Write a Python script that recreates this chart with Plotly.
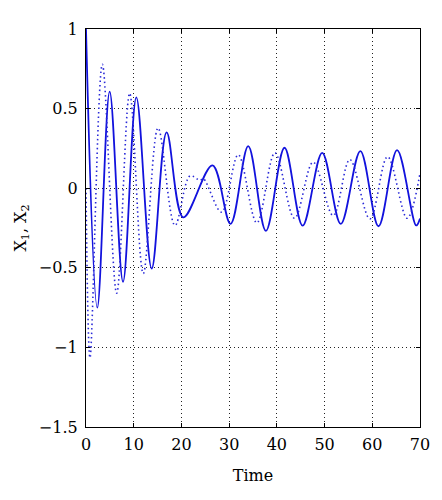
import plotly.graph_objects as go

# X1 (solid) key points
t1 = [0, 2.37, 4.96, 7.76, 10.55, 13.77, 16.9, 20.4, 26.5, 30.3, 34.0, 37.7, 41.6, 45.4, 49.5, 53.4, 57.5, 61.3, 65.2, 69.2, 70]
x1 = [1.0, -0.75, 0.607, -0.588, 0.571, -0.505, 0.351, -0.183, 0.143, -0.224, 0.264, -0.268, 0.254, -0.235, 0.222, -0.224, 0.233, -0.239, 0.239, -0.234, -0.19]

# X2 (dotted) key points
t2 = [0, 0.84, 3.42, 6.43, 9.15, 12.0, 15.1, 18.65, 21.8, 23.9, 24.6, 28.4, 31.9, 35.8, 39.6, 43.7, 47.6, 51.8, 55.3, 59.5, 63.2, 67.3, 70]
x2 = [0.0, -1.065, 0.779, -0.66, 0.596, -0.536, 0.378, -0.234, 0.077, 0.05, 0.06, -0.15, 0.21, -0.218, 0.222, -0.189, 0.164, -0.172, 0.18, -0.193, 0.198, -0.189, 0.093]

xticks = [0, 10, 20, 30, 40, 50, 60, 70]
yticks = [-1.5, -1, -0.5, 0, 0.5, 1]

FONT = "DejaVu Serif"

fig = go.Figure()
fig.add_trace(go.Scatter(x=t1, y=x1, mode="lines", name="X1",
                         line=dict(color="#1212dd", width=1.8, shape="spline", smoothing=1.0)))
fig.add_trace(go.Scatter(x=t2, y=x2, mode="lines", name="X2",
                         line=dict(color="#2a2ad8", width=1.6, dash="1.5px,3px", shape="spline", smoothing=1.0)))

axis_common = dict(
    showline=True, linecolor="black", linewidth=1.2, mirror="ticks",
    ticks="inside", ticklen=4, tickcolor="black",
    showgrid=True, gridcolor="#222222", griddash="1px,3px", gridwidth=1,
    zeroline=False,
    tickfont=dict(family=FONT, size=16, color="black"),
)

fig.update_layout(
    width=434, height=492,
    margin=dict(l=78, r=22, t=17, b=73),
    plot_bgcolor="white", paper_bgcolor="white",
    showlegend=False,
    font=dict(family=FONT, color="black"),
    xaxis=dict(range=[0, 70], tickvals=xticks, ticktext=[str(v) for v in xticks],
               ticklabelstandoff=3,
               title=dict(text="Time", font=dict(family=FONT, size=16), standoff=16),
               **axis_common),
    yaxis=dict(range=[-1.5, 1], tickvals=yticks,
               ticktext=["\u22121.5", "\u22121", "\u22120.5", "0", "0.5", "1"],
               ticklabelstandoff=4,
               title=dict(text="X<sub>1</sub>, X<sub>2</sub>", font=dict(family=FONT, size=16), standoff=8),
               **axis_common),
)

fig.write_html("out.html")
